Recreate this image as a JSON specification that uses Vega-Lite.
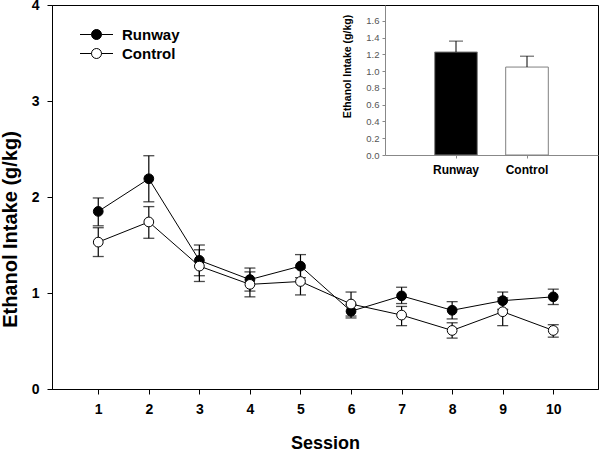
{
  "$schema": "https://vega.github.io/schema/vega-lite/v6.json",
  "width": 546,
  "height": 384,
  "autosize": "none",
  "padding": {"left": 52, "top": 5, "right": 2, "bottom": 62},
  "background": "white",
  "config": {
    "font": "Liberation Sans",
    "view": {"stroke": "black", "strokeWidth": 1},
    "axis": {"grid": false}
  },
  "layer": [
    {
      "data": {
        "values": [
          {"session": 1, "group": "Runway", "mean": 1.85, "lo": 1.70, "hi": 1.99},
          {"session": 2, "group": "Runway", "mean": 2.19, "lo": 1.95, "hi": 2.43},
          {"session": 3, "group": "Runway", "mean": 1.34, "lo": 1.18, "hi": 1.50},
          {"session": 4, "group": "Runway", "mean": 1.14, "lo": 1.02, "hi": 1.26},
          {"session": 5, "group": "Runway", "mean": 1.28, "lo": 1.16, "hi": 1.40},
          {"session": 6, "group": "Runway", "mean": 0.81, "lo": 0.74, "hi": 0.88},
          {"session": 7, "group": "Runway", "mean": 0.97, "lo": 0.89, "hi": 1.06},
          {"session": 8, "group": "Runway", "mean": 0.82, "lo": 0.73, "hi": 0.91},
          {"session": 9, "group": "Runway", "mean": 0.92, "lo": 0.83, "hi": 1.01},
          {"session": 10, "group": "Runway", "mean": 0.96, "lo": 0.88, "hi": 1.04},
          {"session": 1, "group": "Control", "mean": 1.53, "lo": 1.38, "hi": 1.68},
          {"session": 2, "group": "Control", "mean": 1.74, "lo": 1.57, "hi": 1.90},
          {"session": 3, "group": "Control", "mean": 1.28, "lo": 1.12, "hi": 1.45},
          {"session": 4, "group": "Control", "mean": 1.09, "lo": 0.96, "hi": 1.22},
          {"session": 5, "group": "Control", "mean": 1.12, "lo": 0.98, "hi": 1.26},
          {"session": 6, "group": "Control", "mean": 0.885, "lo": 0.76, "hi": 1.01},
          {"session": 7, "group": "Control", "mean": 0.77, "lo": 0.66, "hi": 0.86},
          {"session": 8, "group": "Control", "mean": 0.61, "lo": 0.53, "hi": 0.69},
          {"session": 9, "group": "Control", "mean": 0.805, "lo": 0.66, "hi": 0.95},
          {"session": 10, "group": "Control", "mean": 0.61, "lo": 0.54, "hi": 0.67}
        ]
      },
      "encoding": {
        "x": {
          "field": "session", "type": "quantitative",
          "scale": {"domain": [0.085, 10.885], "nice": false, "zero": false},
          "axis": {
            "values": [1, 2, 3, 4, 5, 6, 7, 8, 9, 10],
            "title": "Session",
            "titleFontSize": 18, "titleFontWeight": "bold", "titleColor": "black",
            "titleY": 59, "titleBaseline": "alphabetic",
            "labelFontSize": 14, "labelFontWeight": "bold", "labelColor": "black",
            "labelPadding": 8, "tickSize": 5, "tickColor": "black", "domainColor": "black"
          }
        }
      },
      "layer": [
        {
          "mark": {"type": "rule", "color": "black", "strokeWidth": 1.2},
          "encoding": {
            "y": {
              "field": "lo", "type": "quantitative",
              "scale": {"domain": [0, 4], "nice": false},
              "axis": {
                "values": [0, 1, 2, 3, 4],
                "format": "d",
                "title": "Ethanol Intake (g/kg)",
                "titleFontSize": 20, "titleFontWeight": "bold", "titleColor": "black",
                "titleX": -42, "titleY": 224, "titleAngle": -90, "titleBaseline": "middle", "titleAlign": "center",
                "labelFontSize": 14, "labelFontWeight": "bold", "labelColor": "black",
                "labelPadding": 8, "tickSize": 5, "tickColor": "black", "domainColor": "black"
              }
            },
            "y2": {"field": "hi"}
          }
        },
        {
          "mark": {"type": "tick", "orient": "horizontal", "color": "black", "size": 11, "thickness": 1.3},
          "encoding": {"y": {"field": "lo", "type": "quantitative"}}
        },
        {
          "mark": {"type": "tick", "orient": "horizontal", "color": "black", "size": 11, "thickness": 1.3},
          "encoding": {"y": {"field": "hi", "type": "quantitative"}}
        },
        {
          "mark": {"type": "line", "color": "black", "strokeWidth": 1},
          "encoding": {
            "y": {"field": "mean", "type": "quantitative"},
            "detail": {"field": "group"}
          }
        },
        {
          "mark": {"type": "point", "shape": "circle", "filled": true, "size": 95, "stroke": "black", "strokeWidth": 1, "opacity": 1},
          "encoding": {
            "y": {"field": "mean", "type": "quantitative"},
            "fill": {
              "field": "group", "type": "nominal",
              "scale": {"domain": ["Runway", "Control"], "range": ["black", "white"]},
              "legend": {
                "title": null,
                "orient": "none",
                "legendX": 37,
                "legendY": 22,
                "padding": 0,
                "symbolType": "M-3.3,0L-1,0M1,0L3.3,0M1,0A1,1,0,1,1,-1,0A1,1,0,1,1,1,0Z",
                "symbolSize": 100,
                "symbolStrokeColor": "black",
                "symbolStrokeWidth": 1,
                "labelFontSize": 15,
                "labelFontWeight": "bold",
                "labelColor": "black",
                "labelOffset": 18,
                "rowPadding": 3
              }
            }
          }
        }
      ]
    },
    {
      "data": {
        "values": [
          {"group": "Runway", "value": 1.23, "err": 1.36},
          {"group": "Control", "value": 1.05, "err": 1.18}
        ]
      },
      "encoding": {
        "x": {
          "field": "group", "type": "nominal", "sort": ["Runway", "Control"],
          "scale": {"type": "band", "range": [333, 546], "paddingInner": 0.4, "paddingOuter": 0.7},
          "axis": {
            "orient": "bottom", "offset": -234, "title": null, "labelAngle": 0,
            "labelFontSize": 12, "labelFontWeight": "bold", "labelColor": "black",
            "labelPadding": 6, "tickSize": 3, "tickColor": "#888", "domainColor": "#888"
          }
        }
      },
      "layer": [
        {
          "mark": {"type": "bar", "stroke": "#808080", "strokeWidth": 1},
          "encoding": {
            "y": {
              "field": "value", "type": "quantitative",
              "scale": {"domain": [0, 1.791], "range": [150, 0], "nice": false},
              "axis": {
                "orient": "left", "offset": -333,
                "values": [0, 0.2, 0.4, 0.6, 0.8, 1.0, 1.2, 1.4, 1.6],
                "format": ".1f",
                "title": "Ethanol Intake (g/kg)",
                "titleFontSize": 10.5, "titleFontWeight": "bold", "titleColor": "black",
                "titleX": -38, "titleY": 61, "titleAngle": -90, "titleBaseline": "middle", "titleAlign": "center",
                "labelFontSize": 9.5, "labelColor": "#555", "labelPadding": 3,
                "tickSize": 3, "tickColor": "#888", "domainColor": "#888"
              }
            },
            "fill": {"condition": {"test": "datum.group === 'Runway'", "value": "black"}, "value": "white"}
          }
        },
        {
          "mark": {"type": "rule", "color": "black", "strokeWidth": 1},
          "encoding": {
            "y": {"field": "value", "type": "quantitative"},
            "y2": {"field": "err"}
          }
        },
        {
          "mark": {"type": "tick", "orient": "horizontal", "color": "black", "size": 14, "thickness": 1},
          "encoding": {"y": {"field": "err", "type": "quantitative"}}
        }
      ]
    }
  ],
  "resolve": {
    "scale": {"x": "independent", "y": "independent"},
    "axis": {"x": "independent", "y": "independent"}
  }
}
